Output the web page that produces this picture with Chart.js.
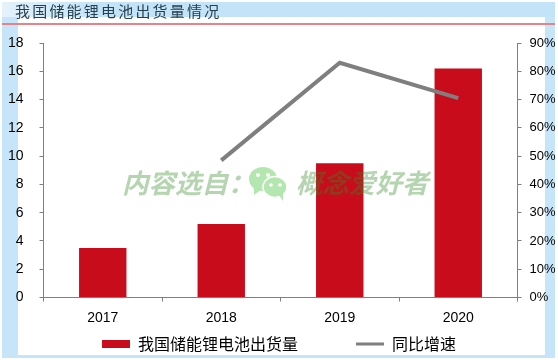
<!DOCTYPE html>
<html>
<head>
<meta charset="utf-8">
<script src="https://cdn.jsdelivr.net/npm/chart.js@4"></script>
<style>
html, body { margin: 0; padding: 0; background: #fff; }
#page { position: relative; width: 558px; height: 360px; overflow: hidden; }
#page div, #page canvas, #page svg { position: absolute; }
.banda { background: #c6e5f8; }
#titulo { left: 15px; top: 0px; font: 15px "Noto Sans CJK SC"; letter-spacing: 2.2px; color: #27404f; white-space: nowrap; }
#linha { left: 2px; top: 23px; width: 553px; height: 2px; background: #e58389; }
.marca { top: 162px; font: italic bold 26.5px "Noto Sans CJK SC"; color: rgba(50, 139, 36, .36); white-space: nowrap; }
</style>
</head>
<body>
<div id="page">
    <div class="banda" style="left:2px;top:2px;width:553px;height:15px;background:linear-gradient(90deg,#e4f2fb,#c2e3f8 18%)"></div>
    <div class="banda" style="left:2px;top:17px;width:16px;height:341px"></div>
    <div class="banda" style="left:545px;top:17px;width:10px;height:341px"></div>
    <div class="banda" style="left:18px;top:355px;width:537px;height:3px"></div>
    <canvas id="grafico" width="558" height="360"></canvas>
    <div id="linha"></div>
    <div id="titulo">我国储能锂电池出货量情况</div>
    <div class="marca" style="left:122px">内容选自：</div>
    <svg style="left:248px;top:166px" width="40" height="36" viewBox="0 0 40 36">
        <ellipse cx="15" cy="13" rx="14" ry="12" fill="#b4e6b0"/>
        <path d="M6 20 L6 29 L14 23 Z" fill="#b4e6b0"/>
        <ellipse cx="27" cy="21" rx="12" ry="10.5" fill="#b4e6b0" stroke="#fff" stroke-width="1.5"/>
        <path d="M31 29 L35 35 L35 27 Z" fill="#b4e6b0"/>
        <circle cx="10" cy="9" r="2" fill="#fff"/><circle cx="20" cy="9" r="2" fill="#fff"/>
        <circle cx="23" cy="19" r="1.8" fill="#fff"/><circle cx="32" cy="19" r="1.8" fill="#fff"/>
    </svg>
    <div class="marca" style="left:296px">概念爱好者</div>
</div>
<script>
//Dados do grafico
const anos = ['2017', '2018', '2019', '2020']
const remessas = [3.5, 5.2, 9.5, 16.2]
const crescimento = [null, 48.5, 83, 70.5]
const nomeBarras = '我国储能锂电池出货量'
const nomeLinha = '同比增速'

const vermelho = '#c80c1c'
const cinza = '#7f7f7f'

const ctx = document.getElementById('grafico').getContext('2d')
new Chart(ctx, {
    data: {
        labels: anos,
        datasets: [
            { type: 'bar', label: nomeBarras, data: remessas, yAxisID: 'y', backgroundColor: vermelho, barPercentage: 0.4, categoryPercentage: 1, order: 2 },
            { type: 'line', label: nomeLinha, data: crescimento, yAxisID: 'y1', borderColor: cinza, backgroundColor: cinza, borderWidth: 4, pointRadius: 0, tension: 0, order: 1 }
        ]
    },
    options: {
        responsive: false,
        animation: false,
        layout: { padding: { top: 43, bottom: -2 } },
        scales: {
            x: {
                grid: { drawOnChartArea: false, tickLength: 4, tickColor: cinza },
                border: { color: cinza },
                ticks: { color: '#000', font: { family: 'Liberation Sans', size: 14 }, padding: 8.5 },
                afterFit: (s) => { s.height = 36.5 }
            },
            y: {
                min: 0, max: 18,
                grid: { drawOnChartArea: false, tickLength: 4, tickColor: cinza },
                border: { color: cinza },
                ticks: { stepSize: 2, color: '#000', font: { family: 'Liberation Sans', size: 14 }, padding: 16 },
                afterFit: (s) => { s.width = 43.5 }
            },
            y1: {
                position: 'right',
                min: 0, max: 90,
                grid: { drawOnChartArea: false, tickLength: 4, tickColor: cinza },
                border: { color: cinza },
                ticks: { stepSize: 10, color: '#000', font: { family: 'Liberation Sans', size: 13 }, padding: 8, callback: (v) => v + '%' },
                afterFit: (s) => { s.width = 40.5 }
            }
        },
        plugins: {
            tooltip: { enabled: false },
            legend: {
                position: 'bottom',
                labels: {
                    color: '#000',
                    font: { family: 'Noto Sans CJK SC', size: 16 },
                    usePointStyle: true,
                    pointStyleWidth: 28,
                    boxHeight: 8,
                    padding: 2,
                    generateLabels: () => [
                        // espacos no fim para afastar os dois itens da legenda
                        { text: nomeBarras + '\u3000\u3000\u3000\u2002', fillStyle: vermelho, strokeStyle: vermelho, lineWidth: 0, pointStyle: 'rect', datasetIndex: 0 },
                        { text: nomeLinha, fillStyle: cinza, strokeStyle: cinza, lineWidth: 3, pointStyle: 'line', datasetIndex: 1 }
                    ]
                }
            }
        }
    }
})
</script>
</body>
</html>
